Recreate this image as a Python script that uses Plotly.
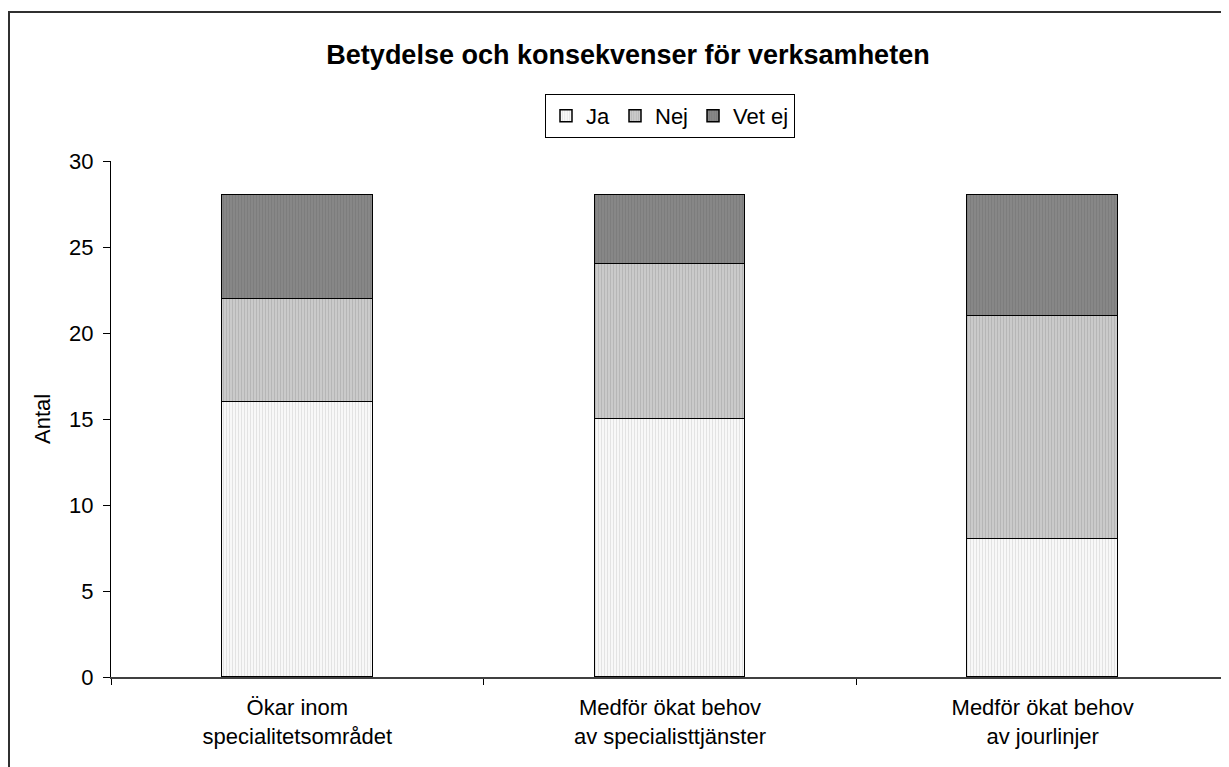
import plotly.graph_objects as go

categories = ["Ökar inom<br>specialitetsområdet",
              "Medför ökat behov<br>av specialisttjänster",
              "Medför ökat behov<br>av jourlinjer"]
ja = [16, 15, 8]
nej = [6, 9, 13]
vet_ej = [6, 4, 7]

OFF = 8  # page body margin
W, H = 1229 - OFF, 767 - OFF
L, R, T, B = 111 - OFF, 0, 161 - OFF, 767 - 677
pw, ph = W - L - R, H - T - B

def px_x(x):  # reference pixel -> paper x
    return (x - OFF - L) / pw

def px_y(y):  # reference pixel -> paper y
    return (H - B - (y - OFF)) / ph

fig = go.Figure()
series = [
    ("Ja", ja, "#ffffff", "#c8c8c8"),
    ("Nej", nej, "#d0d0d0", "#9c9c9c"),
    ("Vet ej", vet_ej, "#8a8a8a", "#707070"),
]
for name, vals, bg, fg in series:
    fig.add_trace(go.Bar(
        name=name, x=categories, y=vals, width=0.405,
        marker=dict(color=bg, line=dict(color="black", width=1.5),
                    pattern=dict(shape="|", bgcolor=bg, fgcolor=fg, size=3, solidity=0.5)),
    ))

fig.update_layout(
    barmode="stack",
    width=W, height=H,
    margin=dict(l=L, r=R, t=T, b=B, pad=0),
    paper_bgcolor="white", plot_bgcolor="white",
    font=dict(family="Arial, Liberation Sans, sans-serif", size=22, color="black"),
    title=dict(text="<b>Betydelse och konsekvenser för verksamheten</b>",
               x=(628 - OFF) / W, xanchor="center", y=1 - (55 - OFF) / H, yanchor="middle",
               font=dict(size=27, color="black")),
    legend=dict(orientation="h", x=px_x(670), xanchor="center", y=px_y(94), yanchor="top",
                bordercolor="black", borderwidth=1, bgcolor="white",
                font=dict(size=22), itemwidth=30, traceorder="normal",
                tracegroupgap=0),
    showlegend=True,
    bargap=0,
)
fig.update_xaxes(showline=True, linecolor="#404040", linewidth=1.5,
                 ticks="outside", tickson="boundaries", ticklen=6, tickcolor="black",
                 showgrid=False, tickfont=dict(size=22), ticklabelstandoff=10)
fig.update_yaxes(range=[0, 30], dtick=5, showline=True, linecolor="black", linewidth=1,
                 ticks="outside", ticklen=7, tickcolor="black", showgrid=False,
                 zeroline=False, tickfont=dict(size=22), ticklabelstandoff=5)
fig.add_annotation(text="Antal", textangle=-90, xref="paper", yref="paper",
                   x=px_x(42), y=0.5, showarrow=False, font=dict(size=22),
                   xanchor="center", yanchor="middle")
fig.add_shape(type="rect", xref="paper", yref="paper",
              x0=px_x(9), y0=px_y(12), x1=px_x(1245), y1=px_y(800),
              line=dict(color="#303030", width=2), fillcolor="rgba(0,0,0,0)", layer="below")

fig.write_html("out.html")
